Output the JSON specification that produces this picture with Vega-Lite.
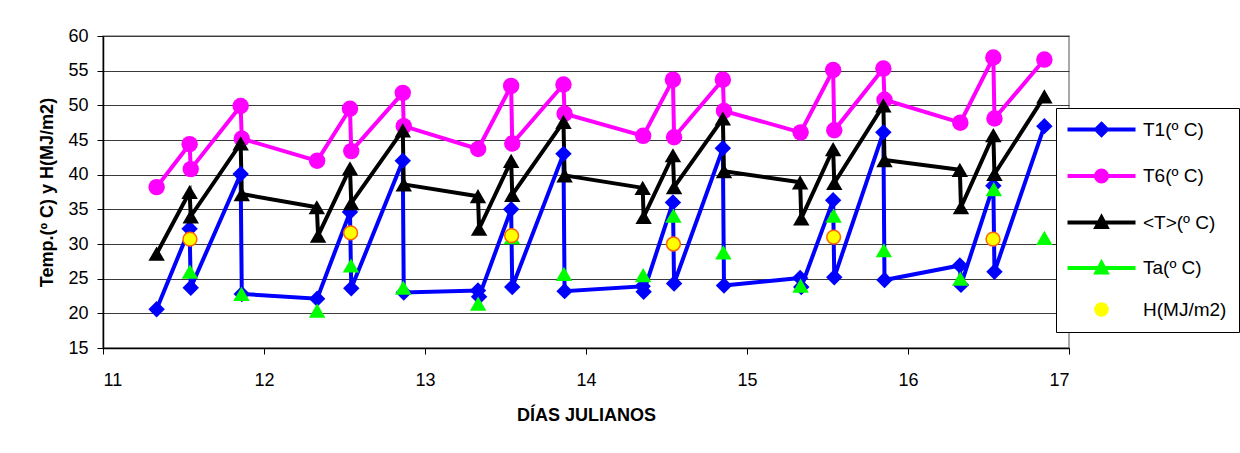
{
  "$schema": "https://vega.github.io/schema/vega-lite/v6.json",
  "width": 966,
  "height": 312,
  "autosize": {"type": "none"},
  "padding": {"left": 103, "top": 36, "right": 171, "bottom": 105},
  "background": "white",
  "config": {
    "font": "Liberation Sans",
    "view": {"stroke": "#8c8c8c", "strokeWidth": 1.5},
    "axis": {
      "labelFont": "Liberation Sans", "labelFontSize": 18, "labelColor": "#000",
      "titleFont": "Liberation Sans", "titleFontSize": 18, "titleFontWeight": "bold", "titleColor": "#000",
      "domainColor": "#000", "domainWidth": 1.5, "tickColor": "#000", "tickSize": 6, "tickWidth": 1
    }
  },
  "data": {"values": [
    {"d": 11.333, "s": "T1(º C)", "v": 20.6},
    {"d": 11.538, "s": "T1(º C)", "v": 32.2},
    {"d": 11.545, "s": "T1(º C)", "v": 23.7},
    {"d": 11.855, "s": "T1(º C)", "v": 40.1},
    {"d": 11.862, "s": "T1(º C)", "v": 22.8},
    {"d": 12.33, "s": "T1(º C)", "v": 22.1},
    {"d": 12.534, "s": "T1(º C)", "v": 34.6},
    {"d": 12.542, "s": "T1(º C)", "v": 23.6},
    {"d": 12.862, "s": "T1(º C)", "v": 42.0},
    {"d": 12.868, "s": "T1(º C)", "v": 23.0},
    {"d": 13.329, "s": "T1(º C)", "v": 23.3},
    {"d": 13.336, "s": "T1(º C)", "v": 22.4},
    {"d": 13.535, "s": "T1(º C)", "v": 35.0},
    {"d": 13.542, "s": "T1(º C)", "v": 23.8},
    {"d": 13.86, "s": "T1(º C)", "v": 43.0},
    {"d": 13.867, "s": "T1(º C)", "v": 23.2},
    {"d": 14.352, "s": "T1(º C)", "v": 23.9},
    {"d": 14.358, "s": "T1(º C)", "v": 23.1},
    {"d": 14.54, "s": "T1(º C)", "v": 36.0},
    {"d": 14.547, "s": "T1(º C)", "v": 24.3},
    {"d": 14.85, "s": "T1(º C)", "v": 43.8},
    {"d": 14.857, "s": "T1(º C)", "v": 24.0},
    {"d": 15.33, "s": "T1(º C)", "v": 25.1},
    {"d": 15.337, "s": "T1(º C)", "v": 23.8},
    {"d": 15.535, "s": "T1(º C)", "v": 36.3},
    {"d": 15.542, "s": "T1(º C)", "v": 25.2},
    {"d": 15.847, "s": "T1(º C)", "v": 46.1},
    {"d": 15.854, "s": "T1(º C)", "v": 24.8},
    {"d": 16.322, "s": "T1(º C)", "v": 26.9},
    {"d": 16.329, "s": "T1(º C)", "v": 24.1},
    {"d": 16.53, "s": "T1(º C)", "v": 38.4},
    {"d": 16.537, "s": "T1(º C)", "v": 26.0},
    {"d": 16.847, "s": "T1(º C)", "v": 47.0},

    {"d": 11.333, "s": "T6(º C)", "v": 38.2},
    {"d": 11.538, "s": "T6(º C)", "v": 44.4},
    {"d": 11.545, "s": "T6(º C)", "v": 40.8},
    {"d": 11.855, "s": "T6(º C)", "v": 49.9},
    {"d": 11.862, "s": "T6(º C)", "v": 45.2},
    {"d": 12.33, "s": "T6(º C)", "v": 42.0},
    {"d": 12.534, "s": "T6(º C)", "v": 49.5},
    {"d": 12.542, "s": "T6(º C)", "v": 43.4},
    {"d": 12.862, "s": "T6(º C)", "v": 51.8},
    {"d": 12.868, "s": "T6(º C)", "v": 47.0},
    {"d": 13.33, "s": "T6(º C)", "v": 43.7},
    {"d": 13.535, "s": "T6(º C)", "v": 52.8},
    {"d": 13.542, "s": "T6(º C)", "v": 44.5},
    {"d": 13.86, "s": "T6(º C)", "v": 53.0},
    {"d": 13.867, "s": "T6(º C)", "v": 48.8},
    {"d": 14.355, "s": "T6(º C)", "v": 45.6},
    {"d": 14.54, "s": "T6(º C)", "v": 53.7},
    {"d": 14.547, "s": "T6(º C)", "v": 45.4},
    {"d": 14.85, "s": "T6(º C)", "v": 53.7},
    {"d": 14.857, "s": "T6(º C)", "v": 49.2},
    {"d": 15.333, "s": "T6(º C)", "v": 46.1},
    {"d": 15.535, "s": "T6(º C)", "v": 55.1},
    {"d": 15.542, "s": "T6(º C)", "v": 46.4},
    {"d": 15.847, "s": "T6(º C)", "v": 55.3},
    {"d": 15.854, "s": "T6(º C)", "v": 50.8},
    {"d": 16.325, "s": "T6(º C)", "v": 47.5},
    {"d": 16.53, "s": "T6(º C)", "v": 56.9},
    {"d": 16.537, "s": "T6(º C)", "v": 48.1},
    {"d": 16.847, "s": "T6(º C)", "v": 56.6},

    {"d": 11.333, "s": "<T>(º C)", "v": 28.6},
    {"d": 11.538, "s": "<T>(º C)", "v": 37.5},
    {"d": 11.545, "s": "<T>(º C)", "v": 34.0},
    {"d": 11.855, "s": "<T>(º C)", "v": 44.5},
    {"d": 11.862, "s": "<T>(º C)", "v": 37.2},
    {"d": 12.328, "s": "<T>(º C)", "v": 35.3},
    {"d": 12.336, "s": "<T>(º C)", "v": 31.2},
    {"d": 12.534, "s": "<T>(º C)", "v": 40.9},
    {"d": 12.542, "s": "<T>(º C)", "v": 35.9},
    {"d": 12.862, "s": "<T>(º C)", "v": 46.4},
    {"d": 12.868, "s": "<T>(º C)", "v": 38.6},
    {"d": 13.329, "s": "<T>(º C)", "v": 36.9},
    {"d": 13.336, "s": "<T>(º C)", "v": 32.2},
    {"d": 13.535, "s": "<T>(º C)", "v": 42.0},
    {"d": 13.542, "s": "<T>(º C)", "v": 37.1},
    {"d": 13.86, "s": "<T>(º C)", "v": 47.6},
    {"d": 13.867, "s": "<T>(º C)", "v": 39.9},
    {"d": 14.352, "s": "<T>(º C)", "v": 38.1},
    {"d": 14.358, "s": "<T>(º C)", "v": 33.9},
    {"d": 14.54, "s": "<T>(º C)", "v": 42.8},
    {"d": 14.547, "s": "<T>(º C)", "v": 38.2},
    {"d": 14.85, "s": "<T>(º C)", "v": 48.1},
    {"d": 14.857, "s": "<T>(º C)", "v": 40.5},
    {"d": 15.33, "s": "<T>(º C)", "v": 38.9},
    {"d": 15.337, "s": "<T>(º C)", "v": 33.7},
    {"d": 15.535, "s": "<T>(º C)", "v": 43.7},
    {"d": 15.542, "s": "<T>(º C)", "v": 38.8},
    {"d": 15.847, "s": "<T>(º C)", "v": 50.0},
    {"d": 15.854, "s": "<T>(º C)", "v": 42.1},
    {"d": 16.322, "s": "<T>(º C)", "v": 40.7},
    {"d": 16.329, "s": "<T>(º C)", "v": 35.3},
    {"d": 16.53, "s": "<T>(º C)", "v": 45.7},
    {"d": 16.537, "s": "<T>(º C)", "v": 40.1},
    {"d": 16.847, "s": "<T>(º C)", "v": 51.3},

    {"d": 11.54, "s": "Ta(º C)", "v": 26.0},
    {"d": 11.86, "s": "Ta(º C)", "v": 22.8},
    {"d": 12.33, "s": "Ta(º C)", "v": 20.4},
    {"d": 12.54, "s": "Ta(º C)", "v": 26.9},
    {"d": 12.865, "s": "Ta(º C)", "v": 23.7},
    {"d": 13.33, "s": "Ta(º C)", "v": 21.4},
    {"d": 13.54, "s": "Ta(º C)", "v": 31.0},
    {"d": 13.863, "s": "Ta(º C)", "v": 25.7},
    {"d": 14.355, "s": "Ta(º C)", "v": 25.5},
    {"d": 14.543, "s": "Ta(º C)", "v": 34.1},
    {"d": 14.853, "s": "Ta(º C)", "v": 28.8},
    {"d": 15.333, "s": "Ta(º C)", "v": 24.0},
    {"d": 15.538, "s": "Ta(º C)", "v": 34.1},
    {"d": 15.85, "s": "Ta(º C)", "v": 29.1},
    {"d": 16.325, "s": "Ta(º C)", "v": 25.0},
    {"d": 16.533, "s": "Ta(º C)", "v": 37.9},
    {"d": 16.847, "s": "Ta(º C)", "v": 30.9},

    {"d": 11.54, "s": "H(MJ/m2)", "v": 30.7},
    {"d": 12.538, "s": "H(MJ/m2)", "v": 31.6},
    {"d": 13.538, "s": "H(MJ/m2)", "v": 31.2},
    {"d": 14.543, "s": "H(MJ/m2)", "v": 30.0},
    {"d": 15.538, "s": "H(MJ/m2)", "v": 31.0},
    {"d": 16.528, "s": "H(MJ/m2)", "v": 30.7}
  ]},
  "encoding": {
    "x": {
      "field": "d", "type": "quantitative",
      "scale": {"domain": [11, 17], "nice": false, "zero": false},
      "axis": {"values": [11, 12, 13, 14, 15, 16, 17], "format": "d", "grid": false, "title": "DÍAS JULIANOS", "labelPadding": 17, "titlePadding": 17}
    },
    "y": {
      "field": "v", "type": "quantitative",
      "scale": {"domain": [15, 60], "nice": false, "zero": false},
      "axis": {"values": [15, 20, 25, 30, 35, 40, 45, 50, 55, 60], "grid": true, "gridColor": "#3a3a3a", "gridWidth": 1, "title": "Temp.(º C) y H(MJ/m2)", "labelPadding": 9, "titlePadding": 11}
    },
    "color": {"field": "s", "type": "nominal",
      "scale": {"domain": ["T1(º C)", "T6(º C)", "<T>(º C)", "Ta(º C)", "H(MJ/m2)"], "range": ["#0000FF", "#FF00FF", "#000000", "#00FF00", "#FFFF00"]},
      "legend": {
        "orient": "none", "legendX": 953, "legendY": 72, "title": null,
        "fillColor": "#ffffff", "strokeColor": "#000000", "padding": 12,
        "symbolSize": 400, "symbolOffset": 24, "labelOffset": 32,
        "labelFont": "Liberation Sans", "labelFontSize": 19, "labelColor": "#000000", "labelLimit": 200,
        "rowPadding": 19.5, "symbolStrokeWidth": 4, "symbolOpacity": 1,
        "encode": {"symbols": {"update": {
          "shape": {"signal": "datum.value === 'T1(º C)' ? 'M-3.4,0H3.4M0,-0.55L0.55,0L0,0.55L-0.55,0Z' : datum.value === 'T6(º C)' ? 'M-3.4,0H3.4M-0.55,0A0.55,0.55,0,1,0,0.55,0A0.55,0.55,0,1,0,-0.55,0Z' : datum.value === 'H(MJ/m2)' ? 'M-3.6,0L-3.6,0M3.6,0L3.6,0M-0.65,0A0.65,0.65,0,1,0,0.65,0A0.65,0.65,0,1,0,-0.65,0Z' : 'M-3.4,0H3.4M0,-0.5L0.5,0.45L-0.5,0.45Z'"},
          "fill": {"signal": "datum.value === 'H(MJ/m2)' ? '#FFFF00' : scale('color', datum.value)"},
          "stroke": {"signal": "datum.value === 'H(MJ/m2)' ? '#FF6600' : scale('color', datum.value)"},
          "strokeWidth": {"signal": "datum.value === 'H(MJ/m2)' ? 1.5 : 4"},
          "opacity": {"value": 1}
        }}}
      }
    }
  },
  "layer": [
    {
      "transform": [{"filter": "datum.s != 'Ta(º C)' && datum.s != 'H(MJ/m2)'"}],
      "mark": {"type": "line", "strokeWidth": 4}
    },
    {
      "transform": [{"filter": "datum.s != 'H(MJ/m2)'"}],
      "mark": {"type": "point", "filled": true, "opacity": 1, "strokeWidth": 0, "size": 270},
      "encoding": {
        "shape": {"field": "s", "type": "nominal",
          "scale": {"domain": ["T1(º C)", "T6(º C)", "<T>(º C)", "Ta(º C)"], "range": ["diamond", "circle", "triangle-up", "triangle-up"]},
          "legend": null}
      }
    },
    {
      "transform": [{"filter": "datum.s == 'H(MJ/m2)'"}],
      "mark": {"type": "point", "filled": true, "opacity": 1, "shape": "circle", "size": 190, "stroke": "#FF6600", "strokeWidth": 1.5}
    }
  ]
}
